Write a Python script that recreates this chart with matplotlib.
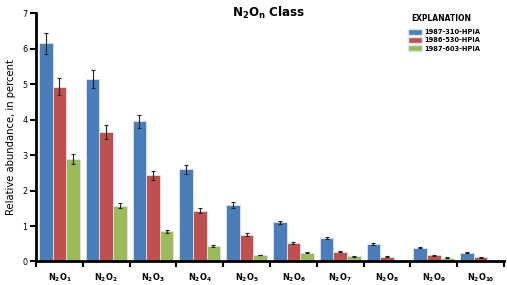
import numpy as np
import matplotlib.pyplot as plt
from matplotlib.patches import Patch

plt.rcParams['font.family'] = ['DejaVu Sans']
plt.rcParams['font.stretch'] = 'condensed'

# Categories and series
classes = [r'N$_\mathregular{2}$O$_\mathregular{%d}$' % n for n in range(1, 11)]
series = ['1987-310-HPIA', '1986-530-HPIA', '1987-603-HPIA']
colors = ['#4a7ebb', '#c0504d', '#9bbb59']

blue = [6.15, 5.15, 3.95, 2.60, 1.60, 1.10, 0.65, 0.49, 0.39, 0.25]
red = [4.93, 3.65, 2.43, 1.43, 0.75, 0.53, 0.28, 0.14, 0.17, 0.12]
green = [2.88, 1.57, 0.85, 0.44, 0.18, 0.245, 0.15, 0.01, 0.11, 0.02]

blue_err = [0.30, 0.25, 0.19, 0.13, 0.08, 0.05, 0.03, 0.02, 0.02, 0.01]
red_err = [0.23, 0.19, 0.12, 0.07, 0.04, 0.03, 0.01, 0.01, 0.01, 0.01]
green_err = [0.14, 0.07, 0.05, 0.02, 0.01, 0.01, 0.01, 0.0, 0.01, 0.0]

values = [blue, red, green]
errors = [blue_err, red_err, green_err]

fig = plt.figure(figsize=(5.07, 2.85), dpi=100)
ax = fig.add_axes([0.071, 0.0825, 0.923, 0.8715])

x = np.arange(len(classes))
w = 0.29
for i in range(3):
    ax.bar(x + (i - 1) * w, values[i], width=w, color=colors[i],
           edgecolor='#dde6f0', linewidth=0.6,
           yerr=errors[i], ecolor='#222222', capsize=1.5,
           error_kw={'elinewidth': 0.8, 'capthick': 0.8})

ax.set_xlim(-0.5, len(classes) - 0.5)
ax.set_ylim(0, 7)
ax.set_yticks(range(8))
ax.set_xticks(x)
ax.set_xticklabels(classes, fontsize=6.5, fontweight='bold')
ax.set_xticks(np.arange(-0.5, len(classes), 1), minor=True)
ax.tick_params(axis='x', which='major', length=0, pad=7)
ax.tick_params(axis='x', which='minor', length=4, width=1.5, direction='out')
ax.tick_params(axis='y', labelsize=6.5, length=4, width=1.5, direction='out', pad=2)
ax.set_ylabel('Relative abundance, in percent', fontsize=8, labelpad=5)

for s in ['top', 'right']:
    ax.spines[s].set_visible(False)
for s in ['left', 'bottom']:
    ax.spines[s].set_linewidth(2)

fig.text(0.53, 0.955, r'N$_\mathregular{2}$O$_\mathregular{n}$ Class', fontsize=9.5,
         fontweight='bold', ha='center', va='center')

fig.text(0.871, 0.935, 'EXPLANATION', fontsize=6, fontweight='bold',
         ha='center', va='center')
handles = [Patch(facecolor=c, edgecolor='#dde6f0') for c in colors]
leg = fig.legend(handles, series, loc='upper left', bbox_to_anchor=(0.797, 0.912),
                 frameon=False, fontsize=5.3, handlelength=1.9, handleheight=0.95,
                 handletextpad=0.35, labelspacing=0.18, borderpad=0)
for t in leg.get_texts():
    t.set_fontweight('bold')

fig.savefig('out.png', dpi=100)
